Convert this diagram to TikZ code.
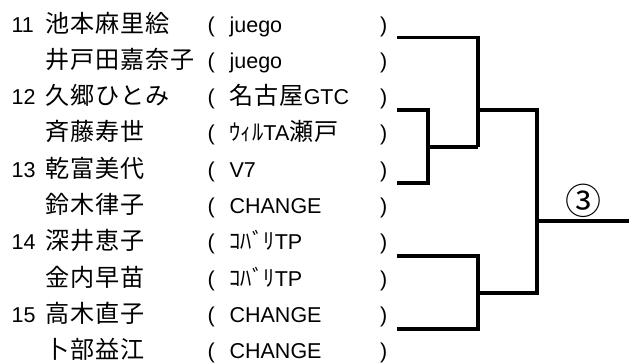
\documentclass[tikz,border=0pt]{standalone}
\usepackage{fontspec}
\setmainfont{Liberation Sans}
\newfontfamily\jp{Noto Sans CJK JP}[Scale=1.12,LetterSpace=4]
\newfontfamily\jpk{Noto Sans CJK JP}[Scale=1.05]
\newfontfamily\jpnum{Noto Sans CJK JP}
\begin{document}
\begin{tikzpicture}[x=1pt,y=-1pt,line width=3.2pt,line join=miter,
  txt/.style={anchor=base west,inner sep=0pt,font=\fontsize{21.5}{24}\selectfont}]
  \useasboundingbox (0,0) rectangle (629,362);

  % 选手与所属
  \foreach \i/\nm/\club in {
    1/池本麻里絵/juego,
    2/井戸田嘉奈子/juego,
    3/久郷ひとみ/{{\jp 名古屋}GTC},
    4/斉藤寿世/{{\jpk ｳｨﾙ}TA{\jp 瀬戸}},
    5/乾富美代/V7,
    6/鈴木律子/CHANGE,
    7/深井恵子/{{\jpk ｺﾊﾞﾘ}TP},
    8/金内早苗/{{\jpk ｺﾊﾞﾘ}TP},
    9/高木直子/CHANGE,
    10/卜部益江/CHANGE}{
    \pgfmathsetmacro\yb{32+36.3*(\i-1)}
    \node[txt] (nm\i) at (44,\yb) {\jp\nm};
    \node[txt] (lp\i) at (206,\yb) {(};
    \node[txt] (cl\i) at (228,\yb) {\club};
    \node[txt] (rp\i) at (378.5,\yb) {)};
  }

  % 番号
  \foreach \i/\num in {1/11,3/12,5/13,7/14,9/15}{
    \pgfmathsetmacro\yb{32+36.3*(\i-1)}
    \node[txt] (no\i) at (10,\yb) {\num};
  }

  % 线的端点
  \coordinate (e1) at (397,37.5);
  \coordinate (e2) at (397,110);
  \coordinate (e3) at (397,183);
  \coordinate (e4) at (397,256);
  \coordinate (e5) at (397,329);
  \coordinate (m1) at (428,147);
  \coordinate (m2) at (478,147);
  \coordinate (m3) at (478,110);
  \coordinate (s2) at (478,293);
  \coordinate (s3) at (537,293);
  \coordinate (f1) at (537,221);
  \coordinate (f2) at (629,221);

  % 组合线
  \draw (e2) -| (m1) |- (e3);
  \draw (m1) -- (m2);
  \draw (e1) -| (m2);
  \draw (e4) -| (s2) |- (e5);
  \draw (m3) -| (s3) -- (s2);
  \draw (f1) -- (f2);

  \node[font=\fontsize{36}{38}\selectfont\jpnum,inner sep=0pt] (r3) at (583,201) {③};
\end{tikzpicture}
\end{document}
